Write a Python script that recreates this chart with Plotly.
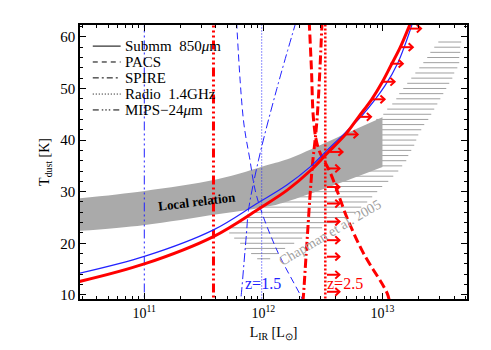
import plotly.graph_objects as go

# values: log10(L_IR/Lsun) and T_dust [K]
submm_z25_logl = [10.44, 11.0, 11.58, 11.97, 12.2, 12.4, 12.53, 12.69, 12.80, 12.91, 13.0, 13.07, 13.15, 13.22, 13.25]
submm_z25_t = [12.5, 16.0, 21.3, 26.8, 30.3, 34.2, 37.3, 41.1, 44.5, 47.9, 51.3, 54.4, 58.0, 61.8, 63.5]

submm_z15_logl = [10.44, 11.007, 11.581, 11.945, 12.197, 12.393, 12.534, 12.69, 12.83, 13.02, 13.13, 13.25]
submm_z15_t = [14.1, 17.5, 22.6, 27.7, 31.3, 34.8, 38.0, 41.5, 44.8, 50.5, 55.0, 62.5]

pacs_z25_logl = [12.385, 12.404, 12.422, 12.46, 12.565, 12.70, 12.84, 13.04, 13.06]
pacs_z25_t = [63.0, 53.5, 43.8, 38.5, 33.5, 25.1, 18.1, 10.3, 8.5]

pacs_z15_logl = [11.775, 11.833, 11.883, 11.945, 12.113, 12.326, 12.335]
pacs_z15_t = [63.0, 43.8, 36.7, 29.0, 18.7, 9.2, 8.5]

spire_z25_logl = [12.493, 12.450, 12.408, 12.360, 12.334, 12.33]
spire_z25_t = [63.0, 43.8, 34.2, 18.1, 9.2, 8.5]

spire_z15_logl = [12.275, 12.11, 11.959, 11.875, 11.858, 11.811, 11.807]
spire_z15_t = [63.0, 49.7, 36.1, 26.4, 21.9, 9.2, 8.5]

radio_z15_logl = 11.986
radio_z25_logl = 12.52
mips_z15_logl = 11.0
mips_z25_logl = 11.581

# local L-T relation (grey band)
local_logl = [10.40, 10.99, 11.612, 12.057, 12.225, 12.62, 13.0]
local_upper_t = [28.6, 30.1, 32.4, 35.3, 36.5, 40.5, 44.4]
local_lower_t = [22.3, 23.5, 25.6, 27.2, 28.3, 31.5, 34.8]

# Chapman et al. 2005 hatched region: one line per temperature
hatch_t = [59, 58, 57, 56, 55, 54, 53, 52, 51, 50, 49, 48, 47, 46, 45, 44, 43, 42, 41, 40, 39, 38,
           37, 36, 35, 34, 33, 32, 31, 30, 29, 28, 27, 26, 25, 24, 23, 22, 21, 20, 19, 18, 17]
hatch_left = [13.469, 13.435, 13.402, 13.376, 13.343, 13.309, 13.276, 13.242, 13.208, 13.175, 13.141,
              13.116, 13.082, 13.040, 13.007, 12.948, 12.889, 12.830, 12.771, 12.713, 12.654, 12.595,
              12.545, 12.486, 12.427, 12.368, 12.309, 12.250, 12.192, 12.133, 12.082, 12.024, 11.965,
              11.906, 11.847, 11.780, 11.729, 11.713, 11.755, 11.805, 11.847, 11.897, 11.948]
hatch_right = [13.662, 13.654, 13.654, 13.645, 13.645, 13.629, 13.603, 13.587, 13.561, 13.536, 13.511,
               13.486, 13.461, 13.435, 13.410, 13.385, 13.351, 13.326, 13.301, 13.284, 13.267, 13.242,
               13.217, 13.200, 13.166, 13.133, 13.091, 13.049, 12.998, 12.956, 12.914, 12.872, 12.822,
               12.771, 12.704, 12.629, 12.494, 12.376, 12.326, 12.259, 12.183, 12.124, 12.057]

# arrows of the z=2.5 limit (tail position)
arrow_t = [61.6, 58.0, 54.8, 51.3, 47.9, 44.5, 41.1, 37.7, 34.5, 30.9, 27.7, 24.2, 20.6, 17.4, 13.9, 10.6]
arrow_logl = [13.219, 13.150, 13.066, 12.997, 12.913, 12.799, 12.687, 12.56, 12.534, 12.534, 12.534,
              12.534, 12.534, 12.534, 12.534, 12.534]

legend_names = ['Submm  850<i>μ</i>m', 'PACS', 'SPIRE', 'Radio  1.4GHz', 'MIPS−24<i>μ</i>m']

FONT = 'Liberation Serif'
RED = '#ff0000'
BLUE = '#2222ff'
DASH = '9px,4px'
DASHDOT = '9px,3px,2px,3px'
DOT = '2px,2px'
DASH3DOT = '9px,3px,2px,3px,2px,3px,2px,3px'
ARROW_LEN = 0.105   # decades
HEAD_DX = 0.035     # decades
HEAD_DY = 0.75      # K


def lin(v):
    return [10 ** x for x in v]


fig = go.Figure()

hx, hy = [], []
for t, a, b in zip(hatch_t, hatch_left, hatch_right):
    hx += [10 ** a, 10 ** b, None]
    hy += [t, t, None]
fig.add_trace(go.Scatter(x=hx, y=hy, mode='lines', line=dict(color='#a0a0a0', width=1)))

fig.add_trace(go.Scatter(x=lin(local_logl), y=local_lower_t, mode='lines',
                         line=dict(color='#aaaaaa', width=0, shape='spline')))
fig.add_trace(go.Scatter(x=lin(local_logl), y=local_upper_t, mode='lines', fill='tonexty',
                         fillcolor='#aaaaaa', line=dict(color='#aaaaaa', width=0, shape='spline')))

vert_t = [0, 70]
fig.add_trace(go.Scatter(x=[10 ** mips_z15_logl] * 2, y=vert_t, mode='lines',
                         line=dict(color=BLUE, width=1, dash=DASH3DOT)))
fig.add_trace(go.Scatter(x=[10 ** radio_z15_logl] * 2, y=vert_t, mode='lines',
                         line=dict(color=BLUE, width=1, dash='1px,2px')))
fig.add_trace(go.Scatter(x=lin(pacs_z15_logl), y=pacs_z15_t, mode='lines',
                         line=dict(color=BLUE, width=1, dash='7px,4px', shape='spline')))
fig.add_trace(go.Scatter(x=lin(spire_z15_logl), y=spire_z15_t, mode='lines',
                         line=dict(color=BLUE, width=1, dash=DASHDOT, shape='spline')))

fig.add_trace(go.Scatter(x=[10 ** mips_z25_logl] * 2, y=vert_t, mode='lines',
                         line=dict(color=RED, width=3, dash=DASH3DOT)))
fig.add_trace(go.Scatter(x=[10 ** radio_z25_logl] * 2, y=vert_t, mode='lines',
                         line=dict(color=RED, width=2.5, dash=DOT)))
fig.add_trace(go.Scatter(x=lin(pacs_z25_logl), y=pacs_z25_t, mode='lines',
                         line=dict(color=RED, width=3, dash=DASH, shape='spline')))
fig.add_trace(go.Scatter(x=lin(spire_z25_logl), y=spire_z25_t, mode='lines',
                         line=dict(color=RED, width=3, dash=DASHDOT, shape='spline')))

fig.add_trace(go.Scatter(x=lin(submm_z15_logl), y=submm_z15_t, mode='lines',
                         line=dict(color=BLUE, width=1.2, shape='spline')))
fig.add_trace(go.Scatter(x=lin(submm_z25_logl), y=submm_z25_t, mode='lines',
                         line=dict(color=RED, width=3, shape='spline')))

# arrows: shaft plus two head strokes
ax_, ay_ = [], []
for lg, t in zip(arrow_logl, arrow_t):
    tip = lg + ARROW_LEN
    ax_ += [10 ** lg, 10 ** tip, None,
            10 ** (tip - HEAD_DX), 10 ** tip, 10 ** (tip - HEAD_DX), None]
    ay_ += [t, t, None, t + HEAD_DY, t, t - HEAD_DY, None]
fig.add_trace(go.Scatter(x=ax_, y=ay_, mode='lines', line=dict(color=RED, width=2)))

# legend drawn by hand (black line styles)
leg_y = [0.923, 0.865, 0.807, 0.748, 0.690]
leg_dash = ['solid', '5px,4px', '6px,3px,2px,3px', '1px,2px', '6px,3px,1.5px,2px,1.5px,2px,1.5px,3px']
for name, yy, d in zip(legend_names, leg_y, leg_dash):
    fig.add_shape(type='line', xref='paper', yref='paper', x0=0.033, x1=0.105, y0=yy, y1=yy,
                  line=dict(color='black', width=1, dash=d))
    fig.add_annotation(xref='paper', yref='paper', x=0.112, y=yy, text=name, showarrow=False,
                       xanchor='left', yanchor='middle', font=dict(family=FONT, size=15, color='black'))

fig.add_annotation(x=11.444, y=28.0, text='<b>Local relation</b>', showarrow=False, textangle=-7,
                   font=dict(family=FONT, size=13, color='black'))
fig.add_annotation(x=12.561, y=22.1, text='Chapman et al. 2005', showarrow=False, textangle=-30.6,
                   font=dict(family=FONT, size=14, color='#a0a0a0'))
fig.add_annotation(x=11.998, y=12.3, text='z=1.5', showarrow=False,
                   font=dict(family=FONT, size=16, color=BLUE))
fig.add_annotation(x=12.687, y=12.3, text='z=2.5', showarrow=False,
                   font=dict(family=FONT, size=16, color=RED))

minor_x = [m * 10 ** e for e in range(10, 14) for m in range(2, 10)]
# the page body adds an 8px offset, so the figure is 8px smaller than the window
fig.update_layout(
    width=483, height=342,
    margin=dict(l=72, r=24, t=17, b=51),
    paper_bgcolor='white', plot_bgcolor='white',
    showlegend=False,
    font=dict(family=FONT, size=14, color='black'),
    xaxis=dict(type='log', range=[10.46, 13.71], showgrid=False, zeroline=False,
               showline=True, linecolor='black', linewidth=1.5, mirror='ticks',
               ticks='inside', ticklen=6, tickcolor='black',
               tickvals=[1e11, 1e12, 1e13],
               ticktext=['10<sup>11</sup>', '10<sup>12</sup>', '10<sup>13</sup>'],
               tickfont=dict(family=FONT, size=14),
               minor=dict(tickvals=minor_x, ticks='inside', ticklen=3, tickcolor='black', showgrid=False),
               title=dict(text='L<sub>IR</sub> [L<sub>⊙</sub>]', standoff=8,
                          font=dict(family=FONT, size=14))),
    yaxis=dict(range=[9.2, 62.3], showgrid=False, zeroline=False,
               showline=True, linecolor='black', linewidth=1.5, mirror='ticks',
               ticks='inside', ticklen=6, tickcolor='black',
               tickvals=[10, 20, 30, 40, 50, 60],
               tickfont=dict(family=FONT, size=15),
               minor=dict(dtick=2, ticks='inside', ticklen=3, tickcolor='black', showgrid=False),
               title=dict(text='T<sub>dust</sub> [K]', standoff=7,
                          font=dict(family=FONT, size=14))),
)

fig.write_html('out.html')
